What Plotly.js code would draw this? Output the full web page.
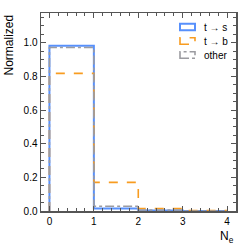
<!DOCTYPE html>
<html><head><meta charset="utf-8">
<script src="https://cdn.plot.ly/plotly-3.0.1.min.js"></script>
<style>html,body{margin:0;padding:0;background:#fff}#c{width:249px;height:249px}</style>
</head><body><div id="c"></div>
<script>
const binEdges = [0, 1, 2, 3, 4];
const labels = ["t \u2192 s", "t \u2192 b", "other"];
const tToS = [0.982, 0.015, 0.003, 0.0];
const tToB = [0.818, 0.170, 0.015, 0.002];
const other = [0.972, 0.028, 0.006, 0.0];
const colors = ["#5790fc", "#f89c20", "#9c9ca1"];
const dashes = ["solid", "dash", "dashdot"];
const widths = [2, 1.6, 1.6];

function stepXY(vals) {
  const x = [binEdges[0]], y = [0];
  for (let i = 0; i < vals.length; i++) { x.push(binEdges[i]); y.push(vals[i]); }
  x.push(binEdges[binEdges.length - 1]); y.push(vals[vals.length - 1]);
  x.push(binEdges[binEdges.length - 1]); y.push(0);
  return {x, y};
}
const series = [tToS, tToB, other];
const traces = series.map((v, i) => {
  const s = stepXY(v);
  return {x: s.x, y: s.y, mode: 'lines', line: {shape: 'hv', color: colors[i], width: widths[i], dash: dashes[i]}, showlegend: false, hoverinfo: 'skip'};
});

const L = 41, R = 236, T = 13, B = 211;
const shapes = [], annotations = [];
const rowY = [27, 41, 55];
labels.forEach((lab, i) => {
  const yc = (B - rowY[i]) / (B - T);
  const h = 3.3 / (B - T);
  shapes.push({type: 'rect', xref: 'paper', yref: 'paper', x0: (180 - L) / (R - L), x1: (195 - L) / (R - L), y0: yc - h, y1: yc + h, line: {color: colors[i], width: widths[i], dash: dashes[i]}, fillcolor: 'rgba(0,0,0,0)'});
  annotations.push({xref: 'paper', yref: 'paper', x: (202 - L) / (R - L), y: yc, xanchor: 'left', yanchor: 'middle', text: lab, showarrow: false, font: {family: 'Liberation Sans, Arial, sans-serif', size: 10, color: '#000'}});
});
annotations.push({xref: 'paper', yref: 'paper', x: 0, y: 1, xanchor: 'right', yanchor: 'top', xshift: -24, textangle: -90, text: 'Normalized', showarrow: false, font: {family: 'Liberation Sans, Arial, sans-serif', size: 12, color: '#000'}});
annotations.push({xref: 'paper', yref: 'paper', x: 1, y: 0, xanchor: 'right', yanchor: 'top', yshift: -16, text: 'N<sub>e</sub>', showarrow: false, font: {family: 'Liberation Sans, Arial, sans-serif', size: 12, color: '#000'}});

const axisCommon = {showline: true, linecolor: '#555', linewidth: 1.5, mirror: 'allticks', ticks: 'inside', ticklen: 5, tickwidth: 1, tickcolor: '#555', showgrid: false, zeroline: false, tickfont: {family: 'Liberation Sans, Arial, sans-serif', size: 10, color: '#000'}};
const layout = {
  width: 249, height: 249,
  margin: {l: L, r: 249 - R, t: T, b: 249 - B},
  paper_bgcolor: '#fff', plot_bgcolor: '#fff',
  showlegend: false,
  xaxis: Object.assign({}, axisCommon, {range: [-0.19, 4.2], dtick: 1, tick0: 0, minor: {dtick: 0.2, ticks: 'inside', ticklen: 3, tickcolor: '#555', showgrid: false}}),
  yaxis: Object.assign({}, axisCommon, {range: [0, 1.177], dtick: 0.2, tick0: 0, tickformat: '.1f', minor: {dtick: 0.05, ticks: 'inside', ticklen: 3, tickcolor: '#555', showgrid: false}}),
  shapes, annotations
};
Plotly.newPlot('c', traces, layout, {staticPlot: true, displayModeBar: false});
</script></body></html>
